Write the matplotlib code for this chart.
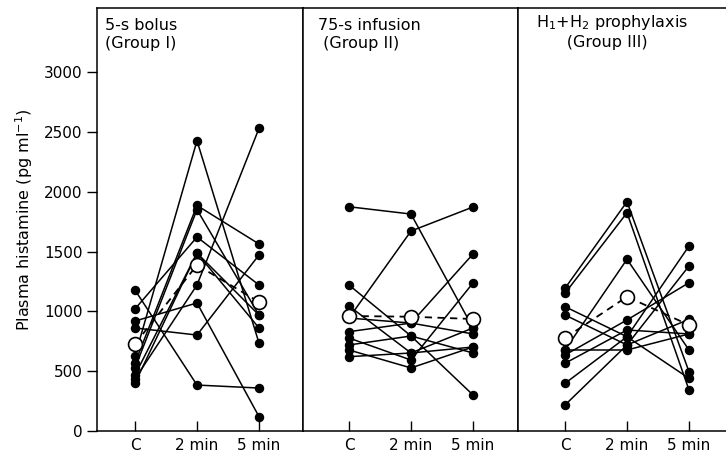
import matplotlib
matplotlib.use("Agg")
import matplotlib.pyplot as plt

plt.rcParams['font.family'] = ['DejaVu Sans']

times = ["C", "2 min", "5 min"]

# group I: 5-s bolus, one row per subject (C, 2 min, 5 min)
group1 = [
    [1178, 384, 359],
    [1020, 1621, 1220],
    [919, 1070, 120],
    [861, 802, 1471],
    [627, 2426, 735],
    [568, 1885, 1563],
    [527, 1850, 969],
    [468, 1487, 861],
    [435, 1220, 2529],
    [401, 1487, 969],
]
mean1 = [727, 1387, 1078]

# group II: 75-s infusion
group2 = [
    [1874, 1813, 861],
    [944, 1671, 1872],
    [1220, 794, 301],
    [1045, 652, 702],
    [830, 902, 1479],
    [777, 593, 1237],
    [719, 794, 652],
    [677, 527, 702],
    [621, 652, 861],
    [944, 902, 811],
]
mean2 = [961, 955, 936]

# group III: H1+H2 prophylaxis
group3 = [
    [1193, 1916, 496],
    [1151, 1824, 343],
    [1039, 788, 440],
    [969, 719, 933],
    [677, 1435, 677],
    [635, 928, 1239],
    [566, 844, 811],
    [398, 788, 1546],
    [217, 719, 1379],
    [677, 677, 811],
]
mean3 = [777, 1122, 886]

titles = ["5-s bolus\n(Group I)", "75-s infusion\n (Group II)",
          "H$_1$+H$_2$ prophylaxis\n      (Group III)"]

W, H = 726, 454
fig = plt.figure(figsize=(W / 100, H / 100), dpi=100)
bottom, top = 1 - 431 / H, 1 - 8 / H
# panel edges and where "C" sits in each panel (pixels), 62 px per step
edges = [(97, 303), (303, 518), (518, 726)]
c_pos = [135, 349, 565]
step = 62
title_xy = [(105, 18), (318, 18), (536, 13)]
x = [0, 1, 2]

for i, (data, mean, title) in enumerate(zip([group1, group2, group3],
                                             [mean1, mean2, mean3], titles)):
    l, r = edges[i]
    ax = fig.add_axes([l / W, bottom, (r - l) / W, top - bottom])
    for row in data:
        ax.plot(x, row, color="black", lw=1.1, marker="o", ms=5.8,
                mfc="black", mec="black", zorder=3)
    ax.plot(x, mean, color="black", lw=1.3, ls=(0, (4, 3)), marker="o",
            ms=10, mfc="white", mec="black", mew=1.2, zorder=4)
    ax.set_xlim((l - c_pos[i]) / step, (r - c_pos[i]) / step)
    ax.set_ylim(0, 3535)
    ax.set_xticks(x)
    ax.set_xticklabels(times, fontsize=11)
    ax.tick_params(axis="x", direction="in", length=7, width=1, pad=5)
    for s in ax.spines.values():
        s.set_linewidth(1.1)
    if i == 0:
        ax.set_yticks(range(0, 3001, 500))
        ax.tick_params(axis="y", direction="out", length=7, width=1,
                       labelsize=11)
        ax.set_ylabel("Plasma histamine (pg ml$^{-1}$)", fontsize=11.5,
                      labelpad=6)
    else:
        ax.set_yticks([])
    if i == 2:
        ax.spines["right"].set_visible(False)
    tx, ty = title_xy[i]
    fig.text(tx / W, 1 - ty / H, title, va="top", ha="left", fontsize=11.5,
             linespacing=1.25)

fig.savefig("out.png", dpi=100)
